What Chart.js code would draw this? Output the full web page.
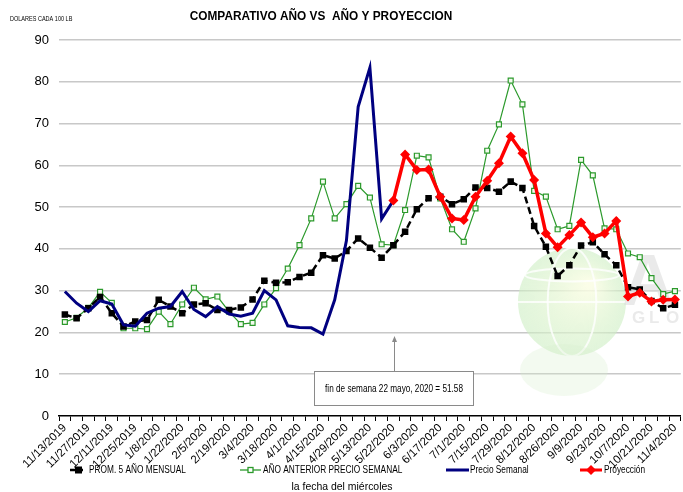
<!DOCTYPE html>
<html><head><meta charset="utf-8">
<script src="https://cdn.jsdelivr.net/npm/chart.js@4/dist/chart.umd.min.js"></script>
<style>html,body{margin:0;padding:0;overflow:hidden;background:#fff}#wrap{width:686px;height:492px}</style>
</head><body><div id="wrap"><canvas id="c" width="686" height="492"></canvas></div>
<script>
const dates = ['11/13/2019','11/20/2019','11/27/2019','12/4/2019','12/11/2019','12/18/2019','12/25/2019','1/1/2020','1/8/2020','1/15/2020','1/22/2020','1/29/2020','2/5/2020','2/12/2020','2/19/2020','2/26/2020','3/4/2020','3/11/2020','3/18/2020','3/25/2020','4/1/2020','4/8/2020','4/15/2020','4/22/2020','4/29/2020','5/6/2020','5/13/2020','5/20/2020','5/22/2020','5/27/2020','6/3/2020','6/10/2020','6/17/2020','6/24/2020','7/1/2020','7/8/2020','7/15/2020','7/22/2020','7/29/2020','8/5/2020','8/12/2020','8/19/2020','8/26/2020','9/2/2020','9/9/2020','9/16/2020','9/23/2020','9/30/2020','10/7/2020','10/14/2020','10/21/2020','10/28/2020','11/4/2020'];
const prom5Anos = [24.3,23.4,25.8,28.5,24.6,21.4,22.6,23.0,27.8,26.2,24.6,26.7,27.0,25.4,25.4,26.0,27.9,32.4,31.9,32.0,33.3,34.3,38.5,37.7,39.5,42.5,40.3,37.9,40.9,44.1,49.5,52.1,52.5,50.7,51.9,54.7,54.6,53.7,56.1,54.6,45.5,40.5,33.5,36.1,40.8,41.6,38.7,36.1,30.8,30.3,27.5,25.8,26.6];
const anoAnterior = [22.5,23.5,25.9,29.7,27.1,21.0,21.0,20.8,25.0,22.0,26.7,30.7,27.9,28.6,25.0,22.0,22.3,26.7,30.6,35.3,40.9,47.3,56.1,47.3,50.7,55.1,52.3,41.1,40.9,49.3,62.3,61.9,52.1,44.7,41.7,49.7,63.5,69.8,80.3,74.6,53.9,52.5,44.7,45.5,61.3,57.6,44.9,44.7,38.9,38.0,33.0,29.2,29.9];
const precioSemanal = [29.8,27.0,25.0,27.6,26.8,21.8,21.5,24.6,25.8,26.2,29.8,25.5,23.8,26.2,24.4,23.9,24.6,30.0,27.8,21.6,21.2,21.1,19.6,27.8,42.0,74.0,83.4,47.2,51.58];
const proyeccionInicio = 28;
const proyeccion = [51.58,62.6,58.9,59.0,52.5,47.3,46.9,52.5,56.3,60.5,66.9,62.9,56.5,43.7,40.4,43.3,46.3,42.8,43.7,46.7,28.6,29.5,27.4,27.8,27.9];
const titulo = 'COMPARATIVO AÑO VS  AÑO Y PROYECCION';
const unidad = 'DOLARES CADA 100 LB';
const ejeX = 'la fecha del miércoles';
const nota = 'fin de semana 22 mayo, 2020 = 51.58';
const nombres = ['PROM. 5 AÑO MENSUAL','AÑO ANTERIOR PRECIO SEMANAL','Precio Semanal','Proyección'];

const SANS = "'Liberation Sans',Arial,sans-serif";

const pad = (arr, start) => { const out = new Array(dates.length).fill(null); arr.forEach((v,i)=>{ out[start+i]=v; }); return out; };

const C_BLACK='#000000', C_GREEN='#2c9a2c', C_BLUE='#000080', C_RED='#ff0000';

function txt(ctx, s, x, y, font, sx, align){
  ctx.save(); ctx.font=font; ctx.textBaseline='middle'; ctx.textAlign=align||'left';
  ctx.translate(x,y); ctx.scale(sx,1); ctx.fillText(s,0,0); ctx.restore();
}

const decor = {
  id:'decor',
  beforeDatasetsDraw(chart){
    const ctx = chart.ctx; ctx.save();
    const cx=572, cy=302, r=54;
    const g = ctx.createRadialGradient(cx+18,cy-18,4,cx,cy,r);
    g.addColorStop(0,'rgba(250,253,228,0.85)');
    g.addColorStop(1,'rgba(205,238,195,0.6)');
    ctx.fillStyle=g; ctx.beginPath(); ctx.arc(cx,cy,r,0,Math.PI*2); ctx.fill();
    ctx.strokeStyle='rgba(255,255,255,0.8)'; ctx.lineWidth=2;
    ctx.beginPath(); ctx.ellipse(cx,cy,r*0.45,r,0,0,Math.PI*2); ctx.stroke();
    ctx.beginPath(); ctx.moveTo(cx-r,cy); ctx.lineTo(cx+r,cy); ctx.stroke();
    ctx.beginPath(); ctx.ellipse(cx,cy-r*0.5,r*0.87,r*0.12,0,0,Math.PI*2); ctx.stroke();
    ctx.fillStyle='rgba(215,240,205,0.3)';
    ctx.beginPath(); ctx.ellipse(cx-8,cy+68,44,26,0,0,Math.PI*2); ctx.fill();
    ctx.fillStyle='rgba(220,220,220,0.6)';
    ctx.font="bold 72px "+SANS; ctx.textBaseline='alphabetic'; ctx.textAlign='left';
    ctx.fillText('A',622,305);
    ctx.font="bold 17px "+SANS;
    'GLOBAL'.split('').forEach((ch,i)=>ctx.fillText(ch,632+i*17,323));
    ctx.restore();
  },
  afterDraw(chart){
    const ctx = chart.ctx; ctx.save();
    ctx.fillStyle='#000';
    txt(ctx,titulo,321,16,"bold 13px "+SANS,0.91,'center');
    txt(ctx,unidad,10,19,"6.5px "+SANS,0.85,'left');
    txt(ctx,ejeX,342,487,"11px "+SANS,0.95,'center');
    ctx.strokeStyle='#8a8a8a'; ctx.lineWidth=1;
    ctx.beginPath(); ctx.moveTo(394.5,372); ctx.lineTo(394.5,338); ctx.stroke();
    ctx.fillStyle='#8a8a8a'; ctx.beginPath(); ctx.moveTo(394.5,336); ctx.lineTo(392,342); ctx.lineTo(397,342); ctx.closePath(); ctx.fill();
    ctx.fillStyle='#fff'; ctx.fillRect(314.5,371.5,159,34);
    ctx.strokeStyle='#8a8a8a'; ctx.strokeRect(314.5,371.5,159,34);
    ctx.fillStyle='#000';
    txt(ctx,nota,394,389,"10px "+SANS,0.82,'center');
    const ly=470; const lf="10px "+SANS; const ls=0.83;
    ctx.strokeStyle=C_BLACK; ctx.lineWidth=2.5; ctx.setLineDash([5,3]);
    ctx.beginPath(); ctx.moveTo(70,ly); ctx.lineTo(86,ly); ctx.stroke(); ctx.setLineDash([]);
    ctx.fillStyle=C_BLACK; ctx.fillRect(75,ly-3.5,7,7);
    txt(ctx,nombres[0],89,ly,lf,ls);
    ctx.strokeStyle=C_GREEN; ctx.lineWidth=1.3;
    ctx.beginPath(); ctx.moveTo(240,ly); ctx.lineTo(261,ly); ctx.stroke();
    ctx.fillStyle='#fff'; ctx.fillRect(248,ly-2.5,5,5); ctx.strokeRect(248,ly-2.5,5,5);
    ctx.fillStyle='#000'; txt(ctx,nombres[1],263,ly,lf,ls);
    ctx.strokeStyle=C_BLUE; ctx.lineWidth=3;
    ctx.beginPath(); ctx.moveTo(446,ly); ctx.lineTo(469,ly); ctx.stroke();
    txt(ctx,nombres[2],470,ly,lf,ls);
    ctx.strokeStyle=C_RED; ctx.lineWidth=3;
    ctx.beginPath(); ctx.moveTo(580,ly); ctx.lineTo(602,ly); ctx.stroke();
    ctx.fillStyle=C_RED; ctx.beginPath(); ctx.moveTo(591,ly-5); ctx.lineTo(596,ly); ctx.lineTo(591,ly+5); ctx.lineTo(586,ly); ctx.closePath(); ctx.fill();
    ctx.fillStyle='#000'; txt(ctx,nombres[3],604,ly,lf,ls);
    ctx.restore();
  }
};

new Chart(document.getElementById('c'), {
  type:'line',
  data:{
    labels: dates,
    datasets:[
      {label:nombres[0], data:prom5Anos, borderColor:C_BLACK, borderWidth:2.5, borderDash:[7,4], pointStyle:'rect', pointRadius:4.6, pointBackgroundColor:C_BLACK, pointBorderWidth:0, order:2},
      {label:nombres[1], data:anoAnterior, borderColor:C_GREEN, borderWidth:1.2, pointStyle:'rect', pointRadius:3.5, pointBackgroundColor:'#f2faee', pointBorderColor:C_GREEN, pointBorderWidth:1.2, order:3},
      {label:nombres[2], data:pad(precioSemanal,0), borderColor:C_BLUE, borderWidth:3, pointRadius:0, order:1},
      {label:nombres[3], data:pad(proyeccion,proyeccionInicio), borderColor:C_RED, borderWidth:3.5, pointStyle:'rectRot', pointRadius:5, pointBackgroundColor:C_RED, pointBorderWidth:0, order:0}
    ]
  },
  options:{
    responsive:false, animation:false, devicePixelRatio:1,
    layout:{padding:{top:40,left:0,right:0,bottom:0}},
    plugins:{legend:{display:false}, tooltip:{enabled:false}, title:{display:false}},
    elements:{line:{tension:0}},
    scales:{
      x:{
        offset:true,
        grid:{drawOnChartArea:false, drawTicks:true, tickLength:5, offset:true, color:'#000', lineWidth:1},
        border:{display:true, color:'#000', width:1.5},
        ticks:{autoSkip:false, maxRotation:45, minRotation:45, color:'#000', font:{family:SANS, size:11.5}, padding:0,
          callback:(v,i)=> i%2===0 ? dates[i] : ''},
        afterFit:(s)=>{ s.height=76; }
      },
      y:{
        min:0, max:90,
        ticks:{stepSize:10, color:'#000', font:{family:SANS, size:13}, padding:10},
        grid:{drawTicks:false, lineWidth:1.5, color:(c)=> c.tick && c.tick.value===0 ? 'rgba(0,0,0,0)' : '#c8c8c8'},
        border:{display:false},
        afterFit:(s)=>{ s.width=59; }
      }
    }
  },
  plugins:[decor]
});
</script>
</body></html>
